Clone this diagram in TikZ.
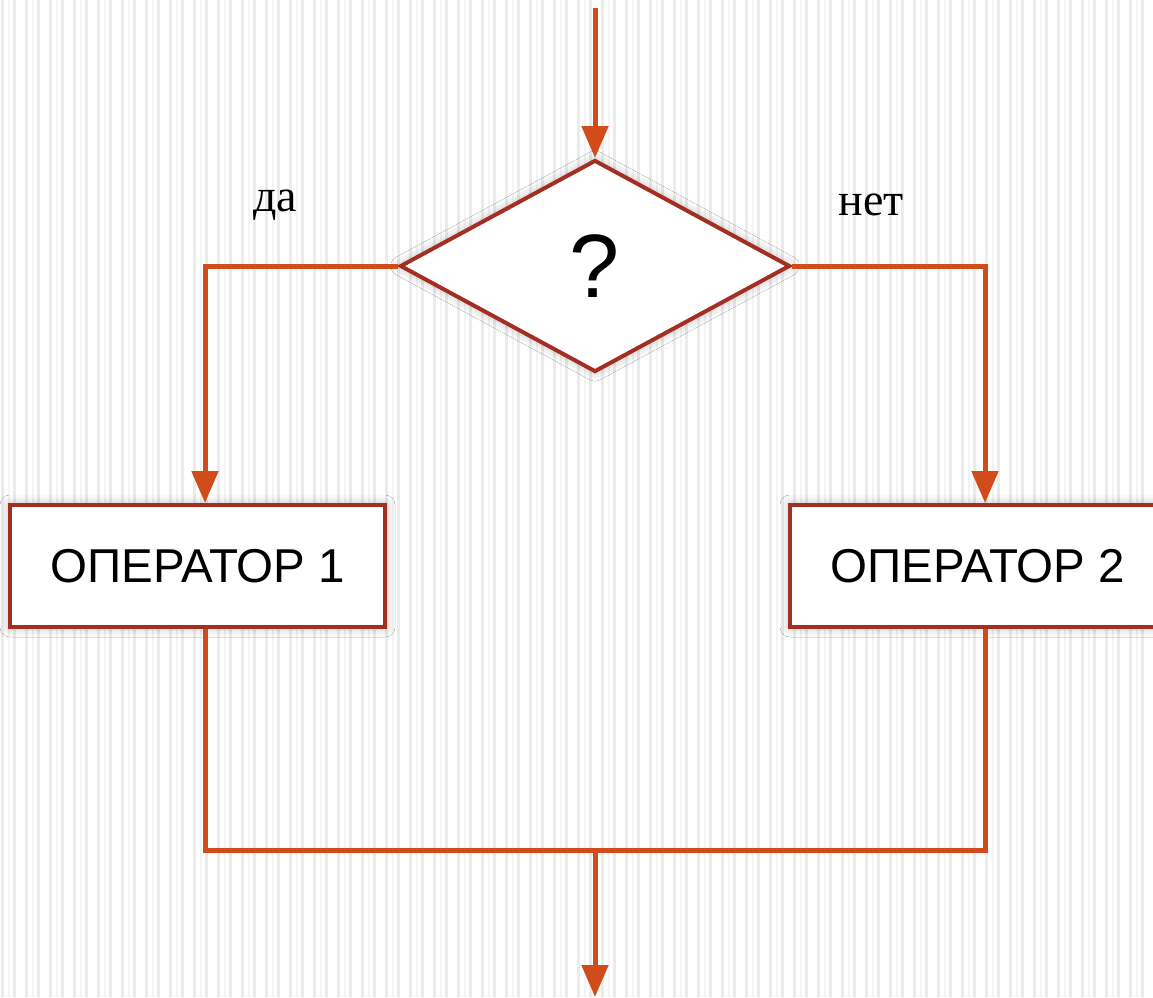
\documentclass[tikz,border=0pt]{standalone}
\usepackage{fontspec}
\setmainfont{Liberation Serif}
\newfontfamily\arialf{Liberation Sans}
\usetikzlibrary{arrows.meta,shapes.geometric,shadows.blur}
\definecolor{conncol}{HTML}{D24B1B}
\definecolor{bordcol}{HTML}{A22F22}
\definecolor{stripecol}{HTML}{EBEBEB}
\begin{document}
\begin{tikzpicture}[x=1pt,y=-1pt,
  conn/.style={draw=conncol,line width=5pt},
  arr/.style={-{Triangle[width=26pt,length=32pt]}},
  softshadow/.style={blur shadow={shadow xshift=0pt,shadow yshift=0pt,shadow blur radius=10pt,shadow opacity=30}},
  opbox/.style={draw=bordcol,line width=4pt,fill=white,minimum width=375pt,minimum height=122pt,inner sep=0pt,font=\arialf\fontsize{47.5}{50}\selectfont,softshadow},
  decision/.style={diamond,draw=bordcol,line width=4pt,fill=white,minimum width=390pt,minimum height=212pt,inner sep=0pt,font=\arialf\fontsize{90}{92}\selectfont,softshadow},
  lbl/.style={font=\fontsize{46}{50}\selectfont,inner sep=0pt}]
\useasboundingbox (0,0) rectangle (1153,997);
\fill[white] (0,0) rectangle (1153,997);
\foreach \i in {0,1,...,96} {
  \fill[stripecol] ({\i*12+1},0) rectangle ({\i*12+3.5},997);
}
\foreach \i in {0,1,...,48} {
  \fill[stripecol!60] ({\i*24+8},0) rectangle ({\i*24+10},997);
}
\node[decision] (d) at (595,266) {?};
\node[opbox] (b1) at (197.5,566) {ОПЕРАТОР 1};
\node[opbox] (b2) at (977.5,566) {ОПЕРАТОР 2};
\node[lbl] (yes) at (275,205) {да};
\node[lbl] (no) at (871,205) {нет};
\coordinate (top) at (595,8);
\coordinate (lb) at (205,850);
\coordinate (rb) at (985,850);
\coordinate (join) at (595,850);
\coordinate (bottom) at (595,997);
\draw[conn,arr] (top) -- (d.north);
\draw[conn,arr] (d.west) -| ([xshift=7.5pt]b1.north);
\draw[conn,arr] (d.east) -| ([xshift=7.5pt]b2.north);
\draw[conn] ([xshift=7.5pt]b1.south) -- (lb) -- (rb) -- ([xshift=7.5pt]b2.south);
\draw[conn,arr] (join) -- (bottom);
\end{tikzpicture}
\end{document}
